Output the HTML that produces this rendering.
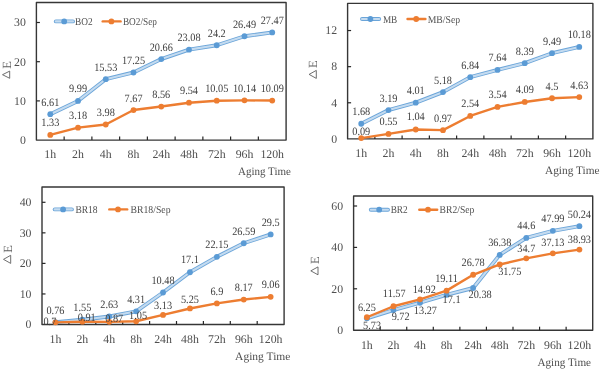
<!DOCTYPE html>
<html><head><meta charset="utf-8"><style>
html,body{margin:0;padding:0;background:#fff;}
svg{display:block;filter:blur(0.35px);}
text{font-family:"Liberation Serif",serif;text-rendering:geometricPrecision;}
.ax{font-size:11.8px;fill:#505050;}
.at{font-size:11.4px;fill:#505050;}
.dl{font-size:11.2px;fill:#404040;}
.lg{font-size:10.5px;fill:#505050;}
.de{font-size:12.5px;fill:#5f5f5f;}
</style></head><body>
<svg width="602" height="370" viewBox="0 0 602 370">
<rect width="602" height="370" fill="#fff"/>
<rect x="36.4" y="2.5" width="249.70" height="137.60" fill="none" stroke="#363636" stroke-width="1.4" stroke-linejoin="round"/>
<text x="25.9" y="143.90" text-anchor="end" class="ax">0</text>
<line x1="36.4" y1="100.90" x2="39.9" y2="100.90" stroke="#262626" stroke-width="1.2"/>
<text x="25.9" y="104.70" text-anchor="end" class="ax">10</text>
<line x1="36.4" y1="61.70" x2="39.9" y2="61.70" stroke="#262626" stroke-width="1.2"/>
<text x="25.9" y="65.50" text-anchor="end" class="ax">20</text>
<line x1="36.4" y1="22.50" x2="39.9" y2="22.50" stroke="#262626" stroke-width="1.2"/>
<text x="25.9" y="26.30" text-anchor="end" class="ax">30</text>
<line x1="64.14" y1="140.1" x2="64.14" y2="136.6" stroke="#262626" stroke-width="1.2"/>
<line x1="91.89" y1="140.1" x2="91.89" y2="136.6" stroke="#262626" stroke-width="1.2"/>
<line x1="119.63" y1="140.1" x2="119.63" y2="136.6" stroke="#262626" stroke-width="1.2"/>
<line x1="147.38" y1="140.1" x2="147.38" y2="136.6" stroke="#262626" stroke-width="1.2"/>
<line x1="175.12" y1="140.1" x2="175.12" y2="136.6" stroke="#262626" stroke-width="1.2"/>
<line x1="202.87" y1="140.1" x2="202.87" y2="136.6" stroke="#262626" stroke-width="1.2"/>
<line x1="230.61" y1="140.1" x2="230.61" y2="136.6" stroke="#262626" stroke-width="1.2"/>
<line x1="258.36" y1="140.1" x2="258.36" y2="136.6" stroke="#262626" stroke-width="1.2"/>
<text x="50.27" y="157.6" text-anchor="middle" class="ax">1h</text>
<text x="78.02" y="157.6" text-anchor="middle" class="ax">2h</text>
<text x="105.76" y="157.6" text-anchor="middle" class="ax">4h</text>
<text x="133.51" y="157.6" text-anchor="middle" class="ax">8h</text>
<text x="161.25" y="157.6" text-anchor="middle" class="ax">24h</text>
<text x="188.99" y="157.6" text-anchor="middle" class="ax">48h</text>
<text x="216.74" y="157.6" text-anchor="middle" class="ax">72h</text>
<text x="244.48" y="157.6" text-anchor="middle" class="ax">96h</text>
<text x="272.23" y="157.6" text-anchor="middle" class="ax">120h</text>
<text x="238.00" y="175.0" textLength="52.90" lengthAdjust="spacingAndGlyphs" class="at">Aging Time</text>
<path d="M9.70,71.10 L9.70,78.30 L2.50,74.70 Z" fill="none" stroke="#5f5f5f" stroke-width="0.9" stroke-linejoin="miter"/>
<text x="0" y="0" transform="translate(10.50,68.70) rotate(-90)" class="de">E</text>
<path d="M50.27,114.19 L78.02,100.94 L105.76,79.22 L133.51,72.48 L161.25,59.11 L188.99,49.63 L216.74,45.24 L244.48,36.26 L272.23,32.42" fill="none" stroke="#5B9BD5" stroke-width="3.9" stroke-linejoin="round" stroke-linecap="round" stroke-opacity="0.9"/><path d="M50.27,114.19 L78.02,100.94 L105.76,79.22 L133.51,72.48 L161.25,59.11 L188.99,49.63 L216.74,45.24 L244.48,36.26 L272.23,32.42" fill="none" stroke="#fff" stroke-width="2.1" stroke-linejoin="round" stroke-linecap="round" stroke-opacity="0.6"/>
<circle cx="50.27" cy="114.19" r="2.9" fill="#5B9BD5"/>
<circle cx="78.02" cy="100.94" r="2.9" fill="#5B9BD5"/>
<circle cx="105.76" cy="79.22" r="2.9" fill="#5B9BD5"/>
<circle cx="133.51" cy="72.48" r="2.9" fill="#5B9BD5"/>
<circle cx="161.25" cy="59.11" r="2.9" fill="#5B9BD5"/>
<circle cx="188.99" cy="49.63" r="2.9" fill="#5B9BD5"/>
<circle cx="216.74" cy="45.24" r="2.9" fill="#5B9BD5"/>
<circle cx="244.48" cy="36.26" r="2.9" fill="#5B9BD5"/>
<circle cx="272.23" cy="32.42" r="2.9" fill="#5B9BD5"/>
<path d="M50.27,134.89 L78.02,127.63 L105.76,124.50 L133.51,110.03 L161.25,106.54 L188.99,102.70 L216.74,100.70 L244.48,100.35 L272.23,100.55" fill="none" stroke="#ED7D31" stroke-width="2.4" stroke-linejoin="round" stroke-linecap="round"/>
<circle cx="50.27" cy="134.89" r="2.9" fill="#ED7D31"/>
<circle cx="78.02" cy="127.63" r="2.9" fill="#ED7D31"/>
<circle cx="105.76" cy="124.50" r="2.9" fill="#ED7D31"/>
<circle cx="133.51" cy="110.03" r="2.9" fill="#ED7D31"/>
<circle cx="161.25" cy="106.54" r="2.9" fill="#ED7D31"/>
<circle cx="188.99" cy="102.70" r="2.9" fill="#ED7D31"/>
<circle cx="216.74" cy="100.70" r="2.9" fill="#ED7D31"/>
<circle cx="244.48" cy="100.35" r="2.9" fill="#ED7D31"/>
<circle cx="272.23" cy="100.55" r="2.9" fill="#ED7D31"/>
<text transform="translate(50.27,105.69) scale(0.92,1)" text-anchor="middle" class="dl">6.61</text>
<text transform="translate(78.02,92.44) scale(0.92,1)" text-anchor="middle" class="dl">9.99</text>
<text transform="translate(105.76,70.72) scale(0.92,1)" text-anchor="middle" class="dl">15.53</text>
<text transform="translate(133.51,63.98) scale(0.92,1)" text-anchor="middle" class="dl">17.25</text>
<text transform="translate(161.25,50.61) scale(0.92,1)" text-anchor="middle" class="dl">20.66</text>
<text transform="translate(188.99,41.13) scale(0.92,1)" text-anchor="middle" class="dl">23.08</text>
<text transform="translate(216.74,36.74) scale(0.92,1)" text-anchor="middle" class="dl">24.2</text>
<text transform="translate(244.48,27.76) scale(0.92,1)" text-anchor="middle" class="dl">26.49</text>
<text transform="translate(272.23,23.92) scale(0.92,1)" text-anchor="middle" class="dl">27.47</text>
<text transform="translate(50.27,126.39) scale(0.92,1)" text-anchor="middle" class="dl">1.33</text>
<text transform="translate(78.02,119.13) scale(0.92,1)" text-anchor="middle" class="dl">3.18</text>
<text transform="translate(105.76,116.00) scale(0.92,1)" text-anchor="middle" class="dl">3.98</text>
<text transform="translate(133.51,101.53) scale(0.92,1)" text-anchor="middle" class="dl">7.67</text>
<text transform="translate(161.25,98.04) scale(0.92,1)" text-anchor="middle" class="dl">8.56</text>
<text transform="translate(188.99,94.20) scale(0.92,1)" text-anchor="middle" class="dl">9.54</text>
<text transform="translate(216.74,92.20) scale(0.92,1)" text-anchor="middle" class="dl">10.05</text>
<text transform="translate(244.48,91.85) scale(0.92,1)" text-anchor="middle" class="dl">10.14</text>
<text transform="translate(272.23,92.05) scale(0.92,1)" text-anchor="middle" class="dl">10.09</text>
<path d="M55.80,21.4 L73.00,21.4" fill="none" stroke="#5B9BD5" stroke-width="3.9" stroke-linejoin="round" stroke-linecap="round" stroke-opacity="0.9"/><path d="M55.80,21.4 L73.00,21.4" fill="none" stroke="#fff" stroke-width="2.1" stroke-linejoin="round" stroke-linecap="round" stroke-opacity="0.6"/>
<circle cx="64.20" cy="21.4" r="2.9" fill="#5B9BD5"/>
<text x="75.00" y="25.00" textLength="17.6" lengthAdjust="spacingAndGlyphs" class="lg">BO2</text>
<path d="M102.70,21.4 L120.60,21.4" stroke="#ED7D31" stroke-width="2.4" stroke-linecap="round"/>
<circle cx="111.40" cy="21.4" r="2.9" fill="#ED7D31"/>
<text x="122.90" y="25.00" textLength="34.0" lengthAdjust="spacingAndGlyphs" class="lg">BO2/Sep</text>
<rect x="347.6" y="3.4" width="245.30" height="135.50" fill="none" stroke="#363636" stroke-width="1.4" stroke-linejoin="round"/>
<text x="337.1" y="142.70" text-anchor="end" class="ax">0</text>
<line x1="347.6" y1="102.78" x2="351.1" y2="102.78" stroke="#262626" stroke-width="1.2"/>
<text x="337.1" y="106.58" text-anchor="end" class="ax">4</text>
<line x1="347.6" y1="66.66" x2="351.1" y2="66.66" stroke="#262626" stroke-width="1.2"/>
<text x="337.1" y="70.46" text-anchor="end" class="ax">8</text>
<line x1="347.6" y1="30.54" x2="351.1" y2="30.54" stroke="#262626" stroke-width="1.2"/>
<text x="337.1" y="34.34" text-anchor="end" class="ax">12</text>
<line x1="374.86" y1="138.9" x2="374.86" y2="135.4" stroke="#262626" stroke-width="1.2"/>
<line x1="402.11" y1="138.9" x2="402.11" y2="135.4" stroke="#262626" stroke-width="1.2"/>
<line x1="429.37" y1="138.9" x2="429.37" y2="135.4" stroke="#262626" stroke-width="1.2"/>
<line x1="456.62" y1="138.9" x2="456.62" y2="135.4" stroke="#262626" stroke-width="1.2"/>
<line x1="483.88" y1="138.9" x2="483.88" y2="135.4" stroke="#262626" stroke-width="1.2"/>
<line x1="511.13" y1="138.9" x2="511.13" y2="135.4" stroke="#262626" stroke-width="1.2"/>
<line x1="538.39" y1="138.9" x2="538.39" y2="135.4" stroke="#262626" stroke-width="1.2"/>
<line x1="565.64" y1="138.9" x2="565.64" y2="135.4" stroke="#262626" stroke-width="1.2"/>
<text x="361.23" y="157.0" text-anchor="middle" class="ax">1h</text>
<text x="388.48" y="157.0" text-anchor="middle" class="ax">2h</text>
<text x="415.74" y="157.0" text-anchor="middle" class="ax">4h</text>
<text x="442.99" y="157.0" text-anchor="middle" class="ax">8h</text>
<text x="470.25" y="157.0" text-anchor="middle" class="ax">24h</text>
<text x="497.51" y="157.0" text-anchor="middle" class="ax">48h</text>
<text x="524.76" y="157.0" text-anchor="middle" class="ax">72h</text>
<text x="552.02" y="157.0" text-anchor="middle" class="ax">96h</text>
<text x="579.27" y="157.0" text-anchor="middle" class="ax">120h</text>
<text x="545.00" y="174.4" textLength="54.50" lengthAdjust="spacingAndGlyphs" class="at">Aging Time</text>
<path d="M316.30,70.40 L316.30,78.40 L309.10,74.40 Z" fill="none" stroke="#5f5f5f" stroke-width="0.9" stroke-linejoin="miter"/>
<text x="0" y="0" transform="translate(317.10,67.90) rotate(-90)" class="de">E</text>
<path d="M361.23,123.73 L388.48,110.09 L415.74,102.69 L442.99,92.12 L470.25,77.13 L497.51,69.91 L524.76,63.14 L552.02,53.21 L579.27,46.97" fill="none" stroke="#5B9BD5" stroke-width="3.9" stroke-linejoin="round" stroke-linecap="round" stroke-opacity="0.9"/><path d="M361.23,123.73 L388.48,110.09 L415.74,102.69 L442.99,92.12 L470.25,77.13 L497.51,69.91 L524.76,63.14 L552.02,53.21 L579.27,46.97" fill="none" stroke="#fff" stroke-width="2.1" stroke-linejoin="round" stroke-linecap="round" stroke-opacity="0.6"/>
<circle cx="361.23" cy="123.73" r="2.9" fill="#5B9BD5"/>
<circle cx="388.48" cy="110.09" r="2.9" fill="#5B9BD5"/>
<circle cx="415.74" cy="102.69" r="2.9" fill="#5B9BD5"/>
<circle cx="442.99" cy="92.12" r="2.9" fill="#5B9BD5"/>
<circle cx="470.25" cy="77.13" r="2.9" fill="#5B9BD5"/>
<circle cx="497.51" cy="69.91" r="2.9" fill="#5B9BD5"/>
<circle cx="524.76" cy="63.14" r="2.9" fill="#5B9BD5"/>
<circle cx="552.02" cy="53.21" r="2.9" fill="#5B9BD5"/>
<circle cx="579.27" cy="46.97" r="2.9" fill="#5B9BD5"/>
<path d="M361.23,138.09 L388.48,133.93 L415.74,129.51 L442.99,130.14 L470.25,115.96 L497.51,106.93 L524.76,101.97 L552.02,98.27 L579.27,97.09" fill="none" stroke="#ED7D31" stroke-width="2.4" stroke-linejoin="round" stroke-linecap="round"/>
<circle cx="361.23" cy="138.09" r="2.9" fill="#ED7D31"/>
<circle cx="388.48" cy="133.93" r="2.9" fill="#ED7D31"/>
<circle cx="415.74" cy="129.51" r="2.9" fill="#ED7D31"/>
<circle cx="442.99" cy="130.14" r="2.9" fill="#ED7D31"/>
<circle cx="470.25" cy="115.96" r="2.9" fill="#ED7D31"/>
<circle cx="497.51" cy="106.93" r="2.9" fill="#ED7D31"/>
<circle cx="524.76" cy="101.97" r="2.9" fill="#ED7D31"/>
<circle cx="552.02" cy="98.27" r="2.9" fill="#ED7D31"/>
<circle cx="579.27" cy="97.09" r="2.9" fill="#ED7D31"/>
<text transform="translate(361.23,115.23) scale(0.92,1)" text-anchor="middle" class="dl">1.68</text>
<text transform="translate(388.48,101.59) scale(0.92,1)" text-anchor="middle" class="dl">3.19</text>
<text transform="translate(415.74,94.19) scale(0.92,1)" text-anchor="middle" class="dl">4.01</text>
<text transform="translate(442.99,83.62) scale(0.92,1)" text-anchor="middle" class="dl">5.18</text>
<text transform="translate(470.25,68.63) scale(0.92,1)" text-anchor="middle" class="dl">6.84</text>
<text transform="translate(497.51,61.41) scale(0.92,1)" text-anchor="middle" class="dl">7.64</text>
<text transform="translate(524.76,54.64) scale(0.92,1)" text-anchor="middle" class="dl">8.39</text>
<text transform="translate(552.02,44.71) scale(0.92,1)" text-anchor="middle" class="dl">9.49</text>
<text transform="translate(579.27,38.47) scale(0.92,1)" text-anchor="middle" class="dl">10.18</text>
<text transform="translate(361.23,135.49) scale(0.92,1)" text-anchor="middle" class="dl">0.09</text>
<text transform="translate(388.48,125.43) scale(0.92,1)" text-anchor="middle" class="dl">0.55</text>
<text transform="translate(415.74,120.01) scale(0.92,1)" text-anchor="middle" class="dl">1.04</text>
<text transform="translate(442.99,121.64) scale(0.92,1)" text-anchor="middle" class="dl">0.97</text>
<text transform="translate(470.25,107.46) scale(0.92,1)" text-anchor="middle" class="dl">2.54</text>
<text transform="translate(497.51,98.43) scale(0.92,1)" text-anchor="middle" class="dl">3.54</text>
<text transform="translate(524.76,93.47) scale(0.92,1)" text-anchor="middle" class="dl">4.09</text>
<text transform="translate(552.02,89.77) scale(0.92,1)" text-anchor="middle" class="dl">4.5</text>
<text transform="translate(579.27,88.59) scale(0.92,1)" text-anchor="middle" class="dl">4.63</text>
<path d="M362.00,19.0 L379.20,19.0" fill="none" stroke="#5B9BD5" stroke-width="3.9" stroke-linejoin="round" stroke-linecap="round" stroke-opacity="0.9"/><path d="M362.00,19.0 L379.20,19.0" fill="none" stroke="#fff" stroke-width="2.1" stroke-linejoin="round" stroke-linecap="round" stroke-opacity="0.6"/>
<circle cx="370.40" cy="19.0" r="2.9" fill="#5B9BD5"/>
<text x="382.90" y="22.60" textLength="14.4" lengthAdjust="spacingAndGlyphs" class="lg">MB</text>
<path d="M407.50,19.0 L425.40,19.0" stroke="#ED7D31" stroke-width="2.4" stroke-linecap="round"/>
<circle cx="416.20" cy="19.0" r="2.9" fill="#ED7D31"/>
<text x="427.70" y="22.60" textLength="32.4" lengthAdjust="spacingAndGlyphs" class="lg">MB/Sep</text>
<rect x="42" y="187" width="242.10" height="137.50" fill="none" stroke="#363636" stroke-width="1.4" stroke-linejoin="round"/>
<text x="31.5" y="328.30" text-anchor="end" class="ax">0</text>
<line x1="42" y1="293.95" x2="45.5" y2="293.95" stroke="#262626" stroke-width="1.2"/>
<text x="31.5" y="297.75" text-anchor="end" class="ax">10</text>
<line x1="42" y1="263.40" x2="45.5" y2="263.40" stroke="#262626" stroke-width="1.2"/>
<text x="31.5" y="267.20" text-anchor="end" class="ax">20</text>
<line x1="42" y1="232.85" x2="45.5" y2="232.85" stroke="#262626" stroke-width="1.2"/>
<text x="31.5" y="236.65" text-anchor="end" class="ax">30</text>
<line x1="42" y1="202.30" x2="45.5" y2="202.30" stroke="#262626" stroke-width="1.2"/>
<text x="31.5" y="206.10" text-anchor="end" class="ax">40</text>
<line x1="68.90" y1="324.5" x2="68.90" y2="321.0" stroke="#262626" stroke-width="1.2"/>
<line x1="95.80" y1="324.5" x2="95.80" y2="321.0" stroke="#262626" stroke-width="1.2"/>
<line x1="122.70" y1="324.5" x2="122.70" y2="321.0" stroke="#262626" stroke-width="1.2"/>
<line x1="149.60" y1="324.5" x2="149.60" y2="321.0" stroke="#262626" stroke-width="1.2"/>
<line x1="176.50" y1="324.5" x2="176.50" y2="321.0" stroke="#262626" stroke-width="1.2"/>
<line x1="203.40" y1="324.5" x2="203.40" y2="321.0" stroke="#262626" stroke-width="1.2"/>
<line x1="230.30" y1="324.5" x2="230.30" y2="321.0" stroke="#262626" stroke-width="1.2"/>
<line x1="257.20" y1="324.5" x2="257.20" y2="321.0" stroke="#262626" stroke-width="1.2"/>
<text x="55.45" y="343.0" text-anchor="middle" class="ax">1h</text>
<text x="82.35" y="343.0" text-anchor="middle" class="ax">2h</text>
<text x="109.25" y="343.0" text-anchor="middle" class="ax">4h</text>
<text x="136.15" y="343.0" text-anchor="middle" class="ax">8h</text>
<text x="163.05" y="343.0" text-anchor="middle" class="ax">24h</text>
<text x="189.95" y="343.0" text-anchor="middle" class="ax">48h</text>
<text x="216.85" y="343.0" text-anchor="middle" class="ax">72h</text>
<text x="243.75" y="343.0" text-anchor="middle" class="ax">96h</text>
<text x="270.65" y="343.0" text-anchor="middle" class="ax">120h</text>
<text x="235.10" y="359.9" textLength="55.30" lengthAdjust="spacingAndGlyphs" class="at">Aging Time</text>
<path d="M10.70,255.30 L10.70,263.40 L3.50,259.35 Z" fill="none" stroke="#5f5f5f" stroke-width="0.9" stroke-linejoin="miter"/>
<text x="0" y="0" transform="translate(11.50,252.80) rotate(-90)" class="de">E</text>
<path d="M55.45,322.18 L82.35,319.76 L109.25,316.47 L136.15,311.33 L163.05,292.48 L189.95,272.26 L216.85,256.83 L243.75,243.27 L270.65,234.38" fill="none" stroke="#5B9BD5" stroke-width="3.9" stroke-linejoin="round" stroke-linecap="round" stroke-opacity="0.9"/><path d="M55.45,322.18 L82.35,319.76 L109.25,316.47 L136.15,311.33 L163.05,292.48 L189.95,272.26 L216.85,256.83 L243.75,243.27 L270.65,234.38" fill="none" stroke="#fff" stroke-width="2.1" stroke-linejoin="round" stroke-linecap="round" stroke-opacity="0.6"/>
<circle cx="55.45" cy="322.18" r="2.9" fill="#5B9BD5"/>
<circle cx="82.35" cy="319.76" r="2.9" fill="#5B9BD5"/>
<circle cx="109.25" cy="316.47" r="2.9" fill="#5B9BD5"/>
<circle cx="136.15" cy="311.33" r="2.9" fill="#5B9BD5"/>
<circle cx="163.05" cy="292.48" r="2.9" fill="#5B9BD5"/>
<circle cx="189.95" cy="272.26" r="2.9" fill="#5B9BD5"/>
<circle cx="216.85" cy="256.83" r="2.9" fill="#5B9BD5"/>
<circle cx="243.75" cy="243.27" r="2.9" fill="#5B9BD5"/>
<circle cx="270.65" cy="234.38" r="2.9" fill="#5B9BD5"/>
<path d="M55.45,322.36 L82.35,321.72 L109.25,321.84 L136.15,321.29 L163.05,314.94 L189.95,308.46 L216.85,303.42 L243.75,299.54 L270.65,296.82" fill="none" stroke="#ED7D31" stroke-width="2.4" stroke-linejoin="round" stroke-linecap="round"/>
<circle cx="55.45" cy="322.36" r="2.9" fill="#ED7D31"/>
<circle cx="82.35" cy="321.72" r="2.9" fill="#ED7D31"/>
<circle cx="109.25" cy="321.84" r="2.9" fill="#ED7D31"/>
<circle cx="136.15" cy="321.29" r="2.9" fill="#ED7D31"/>
<circle cx="163.05" cy="314.94" r="2.9" fill="#ED7D31"/>
<circle cx="189.95" cy="308.46" r="2.9" fill="#ED7D31"/>
<circle cx="216.85" cy="303.42" r="2.9" fill="#ED7D31"/>
<circle cx="243.75" cy="299.54" r="2.9" fill="#ED7D31"/>
<circle cx="270.65" cy="296.82" r="2.9" fill="#ED7D31"/>
<text transform="translate(55.45,313.68) scale(0.92,1)" text-anchor="middle" class="dl">0.76</text>
<text transform="translate(82.35,311.46) scale(0.92,1)" text-anchor="middle" class="dl">1.55</text>
<text transform="translate(109.25,307.97) scale(0.92,1)" text-anchor="middle" class="dl">2.63</text>
<text transform="translate(136.15,302.53) scale(0.92,1)" text-anchor="middle" class="dl">4.31</text>
<text transform="translate(163.05,283.98) scale(0.92,1)" text-anchor="middle" class="dl">10.48</text>
<text transform="translate(189.95,262.76) scale(0.92,1)" text-anchor="middle" class="dl">17.1</text>
<text transform="translate(216.85,248.33) scale(0.92,1)" text-anchor="middle" class="dl">22.15</text>
<text transform="translate(243.75,234.77) scale(0.92,1)" text-anchor="middle" class="dl">26.59</text>
<text transform="translate(270.65,225.88) scale(0.92,1)" text-anchor="middle" class="dl">29.5</text>
<text transform="translate(49.85,324.56) scale(0.92,1)" text-anchor="middle" class="dl">0.7</text>
<text transform="translate(86.75,320.82) scale(0.92,1)" text-anchor="middle" class="dl">0.91</text>
<text transform="translate(114.25,321.84) scale(0.92,1)" text-anchor="middle" class="dl">0.87</text>
<text transform="translate(138.05,319.29) scale(0.92,1)" text-anchor="middle" class="dl">1.05</text>
<text transform="translate(163.05,308.84) scale(0.92,1)" text-anchor="middle" class="dl">3.13</text>
<text transform="translate(189.95,302.96) scale(0.92,1)" text-anchor="middle" class="dl">5.25</text>
<text transform="translate(216.85,294.92) scale(0.92,1)" text-anchor="middle" class="dl">6.9</text>
<text transform="translate(243.75,291.04) scale(0.92,1)" text-anchor="middle" class="dl">8.17</text>
<text transform="translate(270.65,288.32) scale(0.92,1)" text-anchor="middle" class="dl">9.06</text>
<path d="M54.70,209.4 L71.90,209.4" fill="none" stroke="#5B9BD5" stroke-width="3.9" stroke-linejoin="round" stroke-linecap="round" stroke-opacity="0.9"/><path d="M54.70,209.4 L71.90,209.4" fill="none" stroke="#fff" stroke-width="2.1" stroke-linejoin="round" stroke-linecap="round" stroke-opacity="0.6"/>
<circle cx="63.10" cy="209.4" r="2.9" fill="#5B9BD5"/>
<text x="75.40" y="213.00" textLength="22.2" lengthAdjust="spacingAndGlyphs" class="lg">BR18</text>
<path d="M109.30,209.4 L127.20,209.4" stroke="#ED7D31" stroke-width="2.4" stroke-linecap="round"/>
<circle cx="118.00" cy="209.4" r="2.9" fill="#ED7D31"/>
<text x="130.50" y="213.00" textLength="40.0" lengthAdjust="spacingAndGlyphs" class="lg">BR18/Sep</text>
<rect x="353.6" y="196" width="239.10" height="134.20" fill="none" stroke="#363636" stroke-width="1.4" stroke-linejoin="round"/>
<text x="343.1" y="334.00" text-anchor="end" class="ax">0</text>
<line x1="353.6" y1="288.80" x2="357.1" y2="288.80" stroke="#262626" stroke-width="1.2"/>
<text x="343.1" y="292.60" text-anchor="end" class="ax">20</text>
<line x1="353.6" y1="247.40" x2="357.1" y2="247.40" stroke="#262626" stroke-width="1.2"/>
<text x="343.1" y="251.20" text-anchor="end" class="ax">40</text>
<line x1="353.6" y1="206.00" x2="357.1" y2="206.00" stroke="#262626" stroke-width="1.2"/>
<text x="343.1" y="209.80" text-anchor="end" class="ax">60</text>
<line x1="380.17" y1="330.2" x2="380.17" y2="326.7" stroke="#262626" stroke-width="1.2"/>
<line x1="406.73" y1="330.2" x2="406.73" y2="326.7" stroke="#262626" stroke-width="1.2"/>
<line x1="433.30" y1="330.2" x2="433.30" y2="326.7" stroke="#262626" stroke-width="1.2"/>
<line x1="459.87" y1="330.2" x2="459.87" y2="326.7" stroke="#262626" stroke-width="1.2"/>
<line x1="486.43" y1="330.2" x2="486.43" y2="326.7" stroke="#262626" stroke-width="1.2"/>
<line x1="513.00" y1="330.2" x2="513.00" y2="326.7" stroke="#262626" stroke-width="1.2"/>
<line x1="539.57" y1="330.2" x2="539.57" y2="326.7" stroke="#262626" stroke-width="1.2"/>
<line x1="566.13" y1="330.2" x2="566.13" y2="326.7" stroke="#262626" stroke-width="1.2"/>
<text x="366.88" y="349.1" text-anchor="middle" class="ax">1h</text>
<text x="393.45" y="349.1" text-anchor="middle" class="ax">2h</text>
<text x="420.02" y="349.1" text-anchor="middle" class="ax">4h</text>
<text x="446.58" y="349.1" text-anchor="middle" class="ax">8h</text>
<text x="473.15" y="349.1" text-anchor="middle" class="ax">24h</text>
<text x="499.72" y="349.1" text-anchor="middle" class="ax">48h</text>
<text x="526.28" y="349.1" text-anchor="middle" class="ax">72h</text>
<text x="552.85" y="349.1" text-anchor="middle" class="ax">96h</text>
<text x="579.42" y="349.1" text-anchor="middle" class="ax">120h</text>
<text x="537.40" y="366.2" textLength="53.70" lengthAdjust="spacingAndGlyphs" class="at">Aging Time</text>
<path d="M318.00,266.90 L318.00,274.80 L310.80,270.85 Z" fill="none" stroke="#5f5f5f" stroke-width="0.9" stroke-linejoin="miter"/>
<text x="0" y="0" transform="translate(318.80,264.00) rotate(-90)" class="de">E</text>
<path d="M366.88,318.34 L393.45,310.08 L420.02,302.73 L446.58,294.80 L473.15,288.01 L499.72,254.89 L526.28,237.88 L552.85,230.86 L579.42,226.20" fill="none" stroke="#5B9BD5" stroke-width="3.9" stroke-linejoin="round" stroke-linecap="round" stroke-opacity="0.9"/><path d="M366.88,318.34 L393.45,310.08 L420.02,302.73 L446.58,294.80 L473.15,288.01 L499.72,254.89 L526.28,237.88 L552.85,230.86 L579.42,226.20" fill="none" stroke="#fff" stroke-width="2.1" stroke-linejoin="round" stroke-linecap="round" stroke-opacity="0.6"/>
<circle cx="366.88" cy="318.34" r="2.9" fill="#5B9BD5"/>
<circle cx="393.45" cy="310.08" r="2.9" fill="#5B9BD5"/>
<circle cx="420.02" cy="302.73" r="2.9" fill="#5B9BD5"/>
<circle cx="446.58" cy="294.80" r="2.9" fill="#5B9BD5"/>
<circle cx="473.15" cy="288.01" r="2.9" fill="#5B9BD5"/>
<circle cx="499.72" cy="254.89" r="2.9" fill="#5B9BD5"/>
<circle cx="526.28" cy="237.88" r="2.9" fill="#5B9BD5"/>
<circle cx="552.85" cy="230.86" r="2.9" fill="#5B9BD5"/>
<circle cx="579.42" cy="226.20" r="2.9" fill="#5B9BD5"/>
<path d="M366.88,317.26 L393.45,306.25 L420.02,299.32 L446.58,290.64 L473.15,274.77 L499.72,264.48 L526.28,258.37 L552.85,253.34 L579.42,249.61" fill="none" stroke="#ED7D31" stroke-width="2.4" stroke-linejoin="round" stroke-linecap="round"/>
<circle cx="366.88" cy="317.26" r="2.9" fill="#ED7D31"/>
<circle cx="393.45" cy="306.25" r="2.9" fill="#ED7D31"/>
<circle cx="420.02" cy="299.32" r="2.9" fill="#ED7D31"/>
<circle cx="446.58" cy="290.64" r="2.9" fill="#ED7D31"/>
<circle cx="473.15" cy="274.77" r="2.9" fill="#ED7D31"/>
<circle cx="499.72" cy="264.48" r="2.9" fill="#ED7D31"/>
<circle cx="526.28" cy="258.37" r="2.9" fill="#ED7D31"/>
<circle cx="552.85" cy="253.34" r="2.9" fill="#ED7D31"/>
<circle cx="579.42" cy="249.61" r="2.9" fill="#ED7D31"/>
<text transform="translate(372.08,328.74) scale(0.92,1)" text-anchor="middle" class="dl">5.73</text>
<text transform="translate(400.65,319.58) scale(0.92,1)" text-anchor="middle" class="dl">9.72</text>
<text transform="translate(425.42,314.13) scale(0.92,1)" text-anchor="middle" class="dl">13.27</text>
<text transform="translate(451.58,303.40) scale(0.92,1)" text-anchor="middle" class="dl">17.1</text>
<text transform="translate(480.15,297.61) scale(0.92,1)" text-anchor="middle" class="dl">20.38</text>
<text transform="translate(499.72,246.39) scale(0.92,1)" text-anchor="middle" class="dl">36.38</text>
<text transform="translate(526.28,229.38) scale(0.92,1)" text-anchor="middle" class="dl">44.6</text>
<text transform="translate(552.85,222.36) scale(0.92,1)" text-anchor="middle" class="dl">47.99</text>
<text transform="translate(579.42,217.70) scale(0.92,1)" text-anchor="middle" class="dl">50.24</text>
<text transform="translate(366.88,310.96) scale(0.92,1)" text-anchor="middle" class="dl">6.25</text>
<text transform="translate(394.25,296.75) scale(0.92,1)" text-anchor="middle" class="dl">11.57</text>
<text transform="translate(424.22,293.12) scale(0.92,1)" text-anchor="middle" class="dl">14.92</text>
<text transform="translate(446.58,282.14) scale(0.92,1)" text-anchor="middle" class="dl">19.11</text>
<text transform="translate(473.15,266.27) scale(0.92,1)" text-anchor="middle" class="dl">26.78</text>
<text transform="translate(509.72,275.18) scale(0.92,1)" text-anchor="middle" class="dl">31.75</text>
<text transform="translate(526.28,252.27) scale(0.92,1)" text-anchor="middle" class="dl">34.7</text>
<text transform="translate(552.85,245.84) scale(0.92,1)" text-anchor="middle" class="dl">37.13</text>
<text transform="translate(579.42,242.61) scale(0.92,1)" text-anchor="middle" class="dl">38.93</text>
<path d="M370.80,209.7 L388.00,209.7" fill="none" stroke="#5B9BD5" stroke-width="3.9" stroke-linejoin="round" stroke-linecap="round" stroke-opacity="0.9"/><path d="M370.80,209.7 L388.00,209.7" fill="none" stroke="#fff" stroke-width="2.1" stroke-linejoin="round" stroke-linecap="round" stroke-opacity="0.6"/>
<circle cx="379.20" cy="209.7" r="2.9" fill="#5B9BD5"/>
<text x="390.70" y="213.30" textLength="17.0" lengthAdjust="spacingAndGlyphs" class="lg">BR2</text>
<path d="M419.30,209.7 L437.20,209.7" stroke="#ED7D31" stroke-width="2.4" stroke-linecap="round"/>
<circle cx="428.00" cy="209.7" r="2.9" fill="#ED7D31"/>
<text x="439.60" y="213.30" textLength="34.7" lengthAdjust="spacingAndGlyphs" class="lg">BR2/Sep</text>
</svg>
</body></html>
